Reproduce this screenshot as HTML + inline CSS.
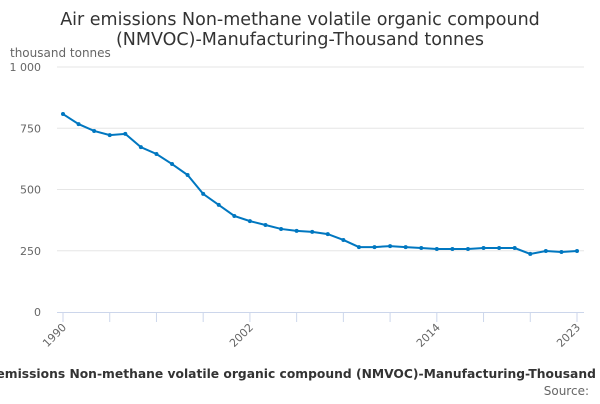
<!DOCTYPE html>
<html><head><meta charset="utf-8"><style>
body{margin:0;background:#fff;width:600px;height:400px;overflow:hidden;font-family:"DejaVu Sans","Liberation Sans",sans-serif;}
</style></head><body>
<svg id="chart" width="600" height="400" xmlns="http://www.w3.org/2000/svg">
<text x="300" y="25" text-anchor="middle" font-size="17.5" fill="#333">Air emissions Non-methane volatile organic compound</text>
<text x="300" y="45" text-anchor="middle" font-size="17.5" fill="#333">(NMVOC)-Manufacturing-Thousand tonnes</text>
<text x="10" y="57" font-size="12" fill="#666">thousand tonnes</text>
<g id="grid"></g><g id="xaxis"></g><g id="series"></g>
<text x="310" y="378" text-anchor="middle" font-size="12.3" font-weight="bold" fill="#333">Air emissions Non-methane volatile organic compound (NMVOC)-Manufacturing-Thousand tonnes</text>
<text x="589" y="395" text-anchor="end" font-size="12" fill="#666">Source:</text>
</svg>
<script>
const years=[1990,1991,1992,1993,1994,1995,1996,1997,1998,1999,2000,2001,2002,2003,2004,2005,2006,2007,2008,2009,2010,2011,2012,2013,2014,2015,2016,2017,2018,2019,2020,2021,2022,2023];
const values=[808,767,739,722,727,673,645,604,559,482,437,392,371,355,339,331,327,318,294,265,265,269,265,261,257,257,257,261,261,261,237,249,245,249];
const yTicks=[0,250,500,750,1000];
const yTickLabels=["0","250","500","750","1 000"];
const xLabels=[1990,2002,2014,2023];
const NS="http://www.w3.org/2000/svg";
const x=v=>63+(v-1990)*(577-63)/33;
const y=v=>312-v*(312-67)/1000;
function mk(t,a,p){const e=document.createElementNS(NS,t);for(const k in a)e.setAttribute(k,a[k]);p.appendChild(e);return e;}
const grid=document.getElementById('grid');
yTicks.forEach((t,i)=>{
 if(t>0){const l=mk('line',{x1:57,x2:584,y1:y(t),y2:y(t),stroke:'#e6e6e6'},grid);
 
 }
 const tx=mk('text',{x:41,y:y(t)+4,'text-anchor':'end','font-size':11,fill:'#666'},grid);
 tx.textContent=yTickLabels[i];
 
 
});
const xa=document.getElementById('xaxis');
const ax=mk('line',{x1:57,x2:584,y1:312.5,y2:312.5,stroke:'#ccd6eb'},xa);


for(let yr=1990;yr<=2023;yr+=3){const tk=mk('line',{x1:x(yr),x2:x(yr),y1:312,y2:322,stroke:'#ccd6eb'},xa);
 
 }
xLabels.forEach(yr=>{const t=mk('text',{x:x(yr)+4,y:328,'text-anchor':'end','font-size':11,fill:'#666',transform:`rotate(-45 ${x(yr)+4} 328)`},xa);
 t.textContent=yr;
 
 });
const s=document.getElementById('series');
const pl=mk('polyline',{points:years.map((yr,i)=>x(yr)+','+y(values[i])).join(' '),fill:'none',stroke:'#0077c0','stroke-width':2},s);


years.forEach((yr,i)=>{const c=mk('circle',{cx:x(yr),cy:y(values[i]),r:2,fill:'#0077c0'},s);
 
 });
</script>
</body></html>
